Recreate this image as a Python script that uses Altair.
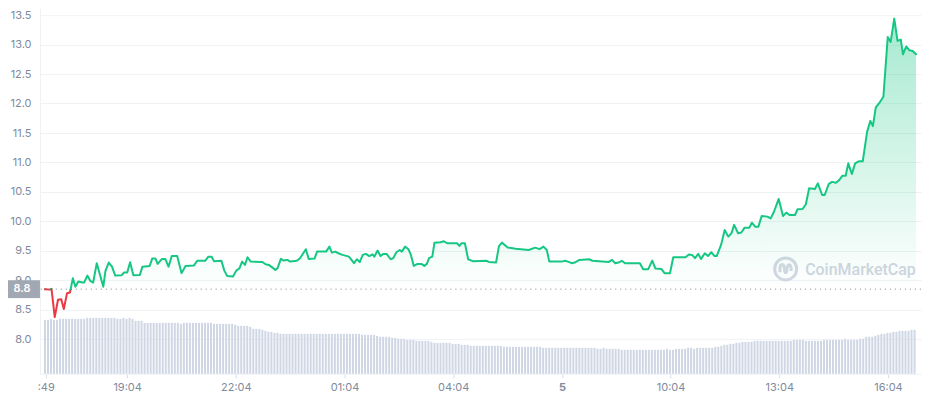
import altair as alt
import pandas as pd

# ---- price line: hours since 16:48 and price (USD) ----
t_hours = [
    0.00, 0.14, 0.18, 0.27, 0.36, 0.45, 0.52, 0.61, 0.69, 0.77,
    0.84, 0.92, 1.04, 1.08, 1.17, 1.25, 1.33, 1.43, 1.61, 1.67,
    1.76, 1.85, 1.94, 2.12, 2.18, 2.27, 2.35, 2.44, 2.62, 2.69,
    2.89, 2.96, 3.05, 3.11, 3.23, 3.32, 3.41, 3.50, 3.65, 3.77,
    3.88, 4.11, 4.20, 4.42, 4.51, 4.60, 4.67, 4.87, 4.95, 5.03,
    5.19, 5.28, 5.37, 5.44, 5.52, 5.59, 5.68, 6.00, 6.09, 6.18,
    6.36, 6.42, 6.51, 6.59, 6.69, 6.77, 6.95, 7.04, 7.20, 7.28,
    7.44, 7.51, 7.76, 7.85, 7.92, 8.01, 8.10, 8.21, 8.39, 8.53,
    8.61, 8.69, 8.77, 8.86, 8.95, 9.04, 9.09, 9.18, 9.26, 9.34,
    9.43, 9.54, 9.61, 9.70, 9.79, 9.85, 9.94, 10.03, 10.10, 10.18,
    10.28, 10.39, 10.47, 10.54, 10.60, 10.69, 10.75, 10.92, 11.01, 11.10,
    11.37, 11.44, 11.50, 11.59, 11.68, 11.82, 12.18, 12.25, 12.45, 12.53,
    12.61, 12.77, 12.99, 13.35, 13.53, 13.65, 13.76, 13.85, 13.92, 14.26,
    14.36, 14.43, 14.54, 14.62, 14.75, 15.02, 15.11, 15.56, 15.65, 15.74,
    15.83, 15.92, 16.01, 16.42, 16.51, 16.65, 16.76, 16.85, 17.01, 17.10,
    17.25, 17.34, 17.68, 17.77, 17.86, 17.94, 18.03, 18.11, 18.21, 18.30,
    18.39, 18.48, 18.54, 18.66, 18.76, 18.86, 18.95, 19.02, 19.13, 19.22,
    19.31, 19.44, 19.51, 19.60, 19.69, 19.78, 19.94, 20.03, 20.12, 20.25,
    20.37, 20.46, 20.55, 20.70, 20.77, 20.91, 21.00, 21.09, 21.25, 21.33,
    21.45, 21.52, 21.63, 21.72, 21.83, 21.92, 22.01, 22.10, 22.17, 22.27,
    22.36, 22.46, 22.57, 22.69, 22.78, 22.85, 22.93, 23.05, 23.14, 23.26,
    23.34, 23.44, 23.53, 23.62, 23.68, 23.77, 23.86, 23.95, 24.04,
]
price = [
    8.848, 8.84, 8.855, 8.373, 8.667, 8.678, 8.51, 8.78, 8.79, 9.034,
    8.89, 8.977, 8.96, 8.96, 9.078, 8.99, 8.96, 9.289, 8.89, 9.16,
    9.30, 9.23, 9.078, 9.085, 9.13, 9.13, 9.306, 9.085, 9.09, 9.23,
    9.243, 9.367, 9.367, 9.277, 9.362, 9.362, 9.23, 9.41, 9.41, 9.12,
    9.243, 9.248, 9.33, 9.33, 9.40, 9.40, 9.32, 9.33, 9.163, 9.073,
    9.062, 9.163, 9.204, 9.316, 9.26, 9.39, 9.316, 9.31, 9.27, 9.26,
    9.175, 9.204, 9.362, 9.333, 9.345, 9.316, 9.33, 9.374, 9.527, 9.362,
    9.367, 9.486, 9.486, 9.57, 9.469, 9.486, 9.458, 9.43, 9.40, 9.289,
    9.356, 9.31, 9.43, 9.447, 9.41, 9.44, 9.40, 9.503, 9.41, 9.447,
    9.447, 9.356, 9.374, 9.475, 9.514, 9.486, 9.57, 9.527, 9.43, 9.243,
    9.277, 9.277, 9.243, 9.277, 9.374, 9.40, 9.638, 9.645, 9.662, 9.628,
    9.628, 9.582, 9.628, 9.628, 9.356, 9.32, 9.33, 9.31, 9.30, 9.58,
    9.638, 9.556, 9.535, 9.514, 9.553, 9.527, 9.57, 9.514, 9.316, 9.316,
    9.33, 9.316, 9.289, 9.30, 9.345, 9.356, 9.33, 9.31, 9.345, 9.289,
    9.30, 9.33, 9.289, 9.289, 9.187, 9.187, 9.333, 9.197, 9.192, 9.119,
    9.119, 9.39, 9.39, 9.435, 9.43, 9.374, 9.447, 9.362, 9.458, 9.41,
    9.475, 9.41, 9.41, 9.60, 9.853, 9.74, 9.80, 9.94, 9.797, 9.81,
    9.893, 9.893, 9.977, 9.91, 9.91, 10.09, 10.08, 10.05, 10.163, 10.38,
    10.09, 10.147, 10.107, 10.107, 10.204, 10.21, 10.29, 10.56, 10.549, 10.645,
    10.447, 10.447, 10.633, 10.67, 10.655, 10.70, 10.775, 10.775, 10.985, 10.803,
    10.985, 11.02, 11.02, 11.52, 11.707, 11.617, 11.934, 12.03, 12.115, 13.13,
    13.047, 13.443, 13.064, 13.087, 12.838, 12.97, 12.905, 12.894, 12.838,
]
base_price = 8.848

# ---- 5-minute volume bars (relative units) ----
volume = [
    54, 54, 55, 54, 54, 55, 55, 55, 55, 55, 55, 55, 55, 55, 56, 56, 56, 56, 56, 56,
    56, 56, 56, 56, 55, 55, 56, 55, 56, 55, 53, 53, 53, 51, 51, 51, 51, 51, 51, 51,
    51, 51, 51, 51, 51, 50, 51, 51, 51, 51, 51, 51, 51, 51, 51, 51, 50, 50, 50, 50,
    50, 50, 50, 49, 48, 48, 48, 48, 47, 45, 45, 45, 44, 43, 42, 42, 41, 41, 40, 40,
    40, 40, 40, 40, 40, 40, 40, 40, 40, 40, 40, 40, 40, 40, 40, 40, 40, 40, 40, 40,
    40, 40, 40, 40, 40, 39, 39, 39, 39, 39, 38, 37, 37, 37, 37, 36, 36, 35, 35, 35,
    34, 34, 34, 33, 33, 33, 33, 33, 32, 31, 31, 31, 31, 31, 31, 30, 30, 30, 29, 29,
    29, 28, 28, 28, 28, 28, 28, 28, 28, 28, 28, 28, 27, 27, 27, 27, 27, 27, 27, 27,
    27, 27, 27, 27, 27, 26, 26, 26, 26, 26, 26, 26, 26, 26, 26, 26, 26, 26, 26, 26,
    26, 26, 26, 25, 25, 26, 25, 25, 25, 25, 25, 24, 24, 24, 24, 24, 24, 24, 24, 24,
    24, 24, 24, 24, 24, 24, 25, 24, 24, 25, 25, 25, 25, 26, 26, 25, 26, 26, 26, 26,
    26, 26, 27, 27, 28, 29, 29, 30, 30, 31, 31, 32, 32, 32, 32, 33, 33, 33, 33, 33,
    33, 33, 33, 33, 33, 33, 33, 33, 34, 34, 34, 34, 33, 33, 33, 33, 33, 33, 34, 34,
    34, 34, 34, 34, 34, 35, 34, 34, 34, 34, 35, 35, 37, 37, 37, 38, 39, 40, 40, 41,
    41, 42, 42, 43, 43, 43, 43, 44, 44,
]

tick_hours = [0.02, 2.267, 5.267, 8.267, 11.267, 14.267, 17.267, 20.267, 23.267]
tick_labels = [":49", "19:04", "22:04", "01:04", "04:04", "5", "10:04", "13:04", "16:04"]
price_ticks = [8.0, 8.5, 9.0, 9.5, 10.0, 10.5, 11.0, 11.5, 12.0, 12.5, 13.0, 13.5]

GREEN = "#16c784"
RED = "#ea3943"
GRID = "#eff2f5"
LABEL = "#808a9d"

# ---- split the line into up/down segments at the opening price ----
rows = []
seg = 0
cur = "up" if price[0] >= base_price else "down"
rows.append({"t": t_hours[0], "p": price[0], "seg": seg, "side": cur})
for i in range(1, len(price)):
    s = "up" if price[i] >= base_price else "down"
    if s != cur:
        p0, p1 = price[i - 1], price[i]
        tc = t_hours[i - 1] + (base_price - p0) / (p1 - p0) * (t_hours[i] - t_hours[i - 1])
        rows.append({"t": tc, "p": base_price, "seg": seg, "side": cur})
        seg += 1
        cur = s
        rows.append({"t": tc, "p": base_price, "seg": seg, "side": cur})
    rows.append({"t": t_hours[i], "p": price[i], "seg": seg, "side": cur})
line_df = pd.DataFrame(rows)
area_df = line_df.drop_duplicates(subset=["t"]).copy()
area_df["pa"] = area_df["p"].clip(lower=base_price)
area_df["b"] = base_price
vol_df = pd.DataFrame({"t": [i / 12 for i in range(len(volume))], "v": volume})
base_df = pd.DataFrame({"b": [base_price], "lab": ["8.8"]})
one = pd.DataFrame({"k": [0]})

label_expr = " : ".join(
    f"abs(datum.value - {h}) < 0.05 ? '{lab}'" for h, lab in zip(tick_hours, tick_labels)
) + " : ''"

x_scale = alt.Scale(domain=[0, 24.04], nice=False, zero=False)
y_scale = alt.Scale(domain=[7.41, 13.62], nice=False, zero=False)

x_axis = alt.Axis(
    values=tick_hours, labelExpr=label_expr, grid=False, title=None,
    domainColor=GRID, tickColor="#d8dde6", tickSize=4, labelPadding=4,
    labelFont="Inter", labelFontSize=11, labelColor=LABEL, labelFlush=2,
    labelOverlap=False,
    labelFontWeight={"condition": {"test": "abs(datum.value - 14.267) < 0.05", "value": 700}, "value": 400},
)
y_axis = alt.Axis(
    values=price_ticks, format=".1f", grid=True, gridColor=GRID, title=None,
    domain=True, domainColor=GRID, ticks=False, labelPadding=9,
    labelFont="Inter", labelFontSize=11, labelColor=LABEL,
    minExtent=32, maxExtent=32, zindex=0,
)

bars = alt.Chart(vol_df).mark_bar(size=2, color="#cfd6e4").encode(
    x=alt.X("t:Q", scale=x_scale, axis=x_axis),
    y=alt.Y("v:Q", scale=alt.Scale(domain=[0, 366], nice=False), axis=None),
)

wm_ring = alt.Chart(one).mark_point(
    shape="circle", size=484, filled=False, stroke="#d3d8e2", strokeWidth=3, opacity=1
).encode(x=alt.value(746.5), y=alt.value(261))
wm_wave = alt.Chart(one).mark_point(
    shape="M -0.52 0.3 L -0.52 0.05 C -0.52 -0.55 -0.12 -0.55 -0.1 0.05 C -0.08 0.45 0.1 0.45 0.12 0.05 C 0.14 -0.55 0.5 -0.5 0.5 0.05 L 0.5 0.2",
    size=484, filled=False, stroke="#d3d8e2", strokeWidth=3, opacity=1
).encode(x=alt.value(746.5), y=alt.value(261))
wm_text = alt.Chart(one).mark_text(
    text="CoinMarketCap", font="Roboto", fontSize=16, fontWeight=500,
    color="#d0d5df", align="left", baseline="alphabetic"
).encode(x=alt.value(766), y=alt.value(267))

area = alt.Chart(area_df).mark_area(
    color=alt.Gradient(
        gradient="linear",
        stops=[
            alt.GradientStop(color="rgba(22,199,132,0.38)", offset=0),
            alt.GradientStop(color="rgba(22,199,132,0)", offset=1),
        ],
        x1=1, x2=1, y1=0, y2=1,
    )
).encode(
    x=alt.X("t:Q", scale=x_scale),
    y=alt.Y("pa:Q", scale=y_scale, axis=y_axis),
    y2="b:Q",
)

rule = alt.Chart(base_df).mark_rule(
    color="#8f96a3", strokeDash=[1.2, 3.8], strokeWidth=1
).encode(y=alt.Y("b:Q", scale=y_scale, axis=None))

line = alt.Chart(line_df).mark_line(strokeWidth=2, strokeJoin="round", strokeCap="round").encode(
    x=alt.X("t:Q", scale=x_scale),
    y=alt.Y("p:Q", scale=y_scale, axis=None),
    detail="seg:N",
    order="t:Q",
    color=alt.Color("side:N", scale=alt.Scale(domain=["up", "down"], range=[GREEN, RED]), legend=None),
)

box = alt.Chart(base_df).mark_point(
    shape="M -1 -0.56 L 1 -0.56 L 1 0.56 L -1 0.56 Z",
    size=1024, filled=True, color="#a1a7b3", opacity=1, strokeWidth=0,
).encode(x=alt.value(-16), y=alt.Y("b:Q", scale=y_scale, axis=None))
box_text = alt.Chart(base_df).mark_text(
    font="Inter", fontSize=11, fontWeight=600, color="#ffffff", align="center", baseline="middle"
).encode(x=alt.value(-18), y=alt.Y("b:Q", scale=y_scale, axis=None), text="lab:N")

chart = alt.layer(
    bars, wm_ring, wm_wave, wm_text, area, rule, line, box, box_text
).resolve_scale(y="independent").properties(
    width=882, height=366, padding=0
).configure_view(stroke=None)

chart.save("out.html", embed_options={"renderer": "svg", "actions": False})
